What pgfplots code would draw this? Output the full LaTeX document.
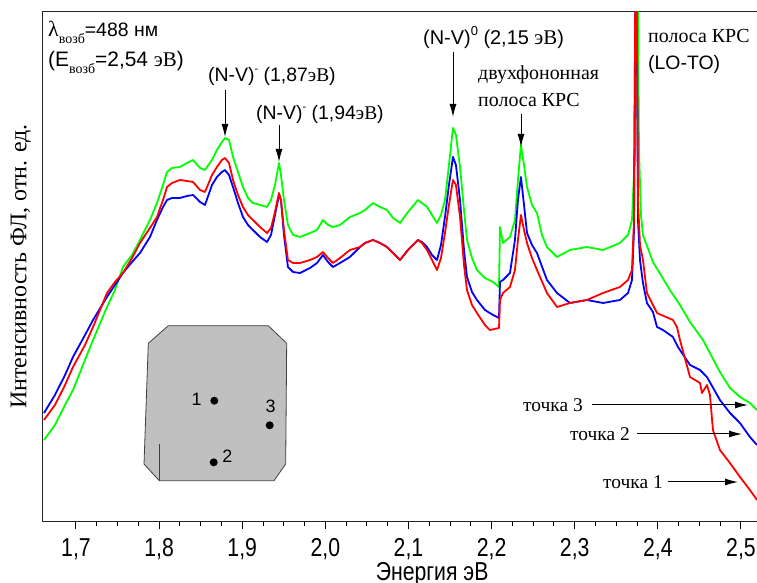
\documentclass[border=0pt]{standalone}
\usepackage{graphicx}
\usepackage{fontspec}
\setmainfont{Liberation Sans}
\newfontfamily\tms{Liberation Serif}
\usepackage{pgfplots}
\pgfplotsset{compat=1.18}
\usetikzlibrary{arrows.meta}
\newcommand\fs[1]{\fontsize{#1}{#1}\selectfont}
\newcommand\nar[1]{\scalebox{0.82}[1]{#1}}
\newcommand\sub[1]{\raisebox{-7bp}{\fs{14}\tms #1}}

\begin{document}
\begin{tikzpicture}
\useasboundingbox (-43bp,-62bp) rectangle (714bp,521bp);
\begin{axis}[
    scale only axis,
    width=714bp, height=509bp,
    xmin=1.6603, xmax=2.5193, ymin=0, ymax=509,
    xtick={1.7,1.8,1.9,2.0,2.1,2.2,2.3,2.4,2.5},
    xticklabels={\nar{1,7},\nar{1,8},\nar{1,9},\nar{2,0},\nar{2,1},\nar{2,2},\nar{2,3},\nar{2,4},\nar{2,5}},
    minor x tick num=3,
    ytick=\empty,
    xtick pos=left,
    tick align=outside,
    major tick length=8bp, minor tick length=5bp,
    every tick/.style={black, line width=1bp},
    axis line style={line width=1bp, black!85},
    xticklabel style={font=\fs{26}, anchor=base, yshift=-27bp, inner ysep=1bp},
    xlabel={\nar{Энергия эВ}},
    xlabel style={font=\fs{26}, at={(axis description cs:0.545,-0.116)}, anchor=base, inner ysep=1bp},
    ylabel={\tms Интенсивность ФЛ, отн. ед.},
    ylabel style={font=\fs{24}, at={(axis description cs:-0.031,0.5)}, anchor=center},
    every axis plot/.style={line width=1.8bp, line join=round},
]
% точка 3
\addplot[color={rgb,255:red,0;green,255;blue,0}] coordinates {
(1.6615,81) (1.6747,96) (1.6868,116) (1.6964,131) (1.7108,161) (1.7205,181)
(1.7373,214) (1.7469,231) (1.7565,254) (1.7674,266) (1.7770,281) (1.7890,301)
(1.7974,318) (1.8047,336) (1.8095,349) (1.8155,353) (1.8251,354) (1.8335,358)
(1.8408,361) (1.8492,353) (1.8552,351) (1.8636,361) (1.8696,371) (1.8756,379)
(1.8792,383) (1.8841,381) (1.8889,364) (1.8949,349) (1.9009,334) (1.9069,323)
(1.9129,318) (1.9214,316) (1.9298,314) (1.9346,321) (1.9394,336) (1.9442,358)
(1.9466,346) (1.9502,321) (1.9550,296) (1.9611,286) (1.9695,284) (1.9815,288)
(1.9899,291) (1.9971,301) (2.0032,296) (2.0092,294) (2.0176,296) (2.0296,304)
(2.0417,308) (2.0477,311) (2.0573,318) (2.0657,314) (2.0741,311) (2.0814,303)
(2.0898,298) (2.0994,309) (2.1114,321) (2.1162,318) (2.1223,314) (2.1283,306)
(2.1343,298) (2.1391,306) (2.1439,321) (2.1487,356) (2.1535,393) (2.1571,386)
(2.1620,354) (2.1668,311) (2.1704,281) (2.1764,263) (2.1824,251) (2.1920,243)
(2.2017,239) (2.2089,234) (2.2101,294) (2.2137,278) (2.2221,284) (2.2281,301)
(2.2317,341) (2.2353,376) (2.2390,356) (2.2426,334) (2.2486,316) (2.2546,308)
(2.2606,286) (2.2666,274) (2.2787,264) (2.2943,271) (2.3147,274) (2.3340,271)
(2.3544,278) (2.3641,286) (2.3689,301) (2.3725,371) (2.3749,650) (2.3773,371)
(2.3797,306) (2.3821,286) (2.3941,259) (2.4146,231) (2.4266,216) (2.4387,199)
(2.4543,181) (2.4747,149) (2.4868,133) (2.4988,124) (2.5108,118) (2.5193,111)
};
% точка 2
\addplot[color={rgb,255:red,0;green,0;blue,255}] coordinates {
(1.6615,108) (1.6747,126) (1.6868,146) (1.6964,164) (1.7108,186) (1.7205,201)
(1.7373,224) (1.7469,236) (1.7565,248) (1.7674,259) (1.7770,268) (1.7890,284)
(1.7974,301) (1.8047,314) (1.8095,321) (1.8155,323) (1.8251,323) (1.8335,325)
(1.8408,326) (1.8492,319) (1.8552,316) (1.8636,336) (1.8696,344) (1.8756,349)
(1.8792,351) (1.8841,346) (1.8889,334) (1.8949,318) (1.9009,304) (1.9069,296)
(1.9129,291) (1.9214,284) (1.9298,279) (1.9346,286) (1.9394,306) (1.9442,326)
(1.9466,321) (1.9502,286) (1.9550,254) (1.9611,249) (1.9695,248) (1.9815,253)
(1.9899,258) (1.9971,266) (2.0032,259) (2.0092,254) (2.0176,258) (2.0296,264)
(2.0417,274) (2.0477,278) (2.0573,281) (2.0657,278) (2.0741,274) (2.0814,268)
(2.0898,261) (2.0994,271) (2.1114,281) (2.1162,279) (2.1223,274) (2.1283,266)
(2.1343,261) (2.1391,276) (2.1439,304) (2.1487,336) (2.1535,364) (2.1571,356)
(2.1620,321) (2.1668,271) (2.1704,244) (2.1764,229) (2.1824,221) (2.1920,211)
(2.2017,206) (2.2089,203) (2.2101,239) (2.2137,241) (2.2221,248) (2.2281,281)
(2.2317,321) (2.2353,344) (2.2390,316) (2.2426,288) (2.2486,276) (2.2546,268)
(2.2666,241) (2.2787,228) (2.2943,218) (2.3147,221) (2.3340,218) (2.3544,221)
(2.3641,228) (2.3689,241) (2.3713,291) (2.3737,650) (2.3761,301) (2.3785,261)
(2.3821,238) (2.3869,218) (2.3941,209) (2.3990,194) (2.4062,191) (2.4182,184)
(2.4242,174) (2.4387,156) (2.4507,151) (2.4591,144) (2.4747,121) (2.4868,108)
(2.4988,98) (2.5108,84) (2.5193,76)
};
% точка 1
\addplot[color={rgb,255:red,255;green,0;blue,0}] coordinates {
(1.6615,101) (1.6747,116) (1.6868,136) (1.6964,154) (1.7108,176) (1.7205,194)
(1.7373,228) (1.7469,239) (1.7565,248) (1.7674,263) (1.7770,278) (1.7890,293)
(1.7974,304) (1.8047,321) (1.8095,334) (1.8155,338) (1.8251,341) (1.8335,340)
(1.8408,339) (1.8492,331) (1.8552,329) (1.8636,346) (1.8696,354) (1.8756,361)
(1.8792,363) (1.8841,358) (1.8889,341) (1.8949,326) (1.9009,314) (1.9069,306)
(1.9129,301) (1.9214,294) (1.9298,288) (1.9346,293) (1.9394,309) (1.9442,328)
(1.9466,321) (1.9502,291) (1.9550,261) (1.9611,258) (1.9695,258) (1.9815,261)
(1.9899,264) (1.9971,269) (2.0032,263) (2.0092,258) (2.0176,263) (2.0296,271)
(2.0417,274) (2.0477,278) (2.0573,281) (2.0657,278) (2.0741,274) (2.0814,268)
(2.0898,261) (2.0994,271) (2.1114,281) (2.1162,278) (2.1223,271) (2.1283,261)
(2.1343,251) (2.1391,263) (2.1439,288) (2.1487,316) (2.1535,341) (2.1571,336)
(2.1620,304) (2.1668,256) (2.1704,231) (2.1764,216) (2.1824,208) (2.1920,196)
(2.1980,191) (2.2089,193) (2.2101,221) (2.2137,228) (2.2221,234) (2.2281,251)
(2.2317,281) (2.2353,306) (2.2390,291) (2.2426,278) (2.2486,263) (2.2546,251)
(2.2666,228) (2.2787,214) (2.2943,218) (2.3147,221) (2.3340,228) (2.3544,234)
(2.3641,241) (2.3689,251) (2.3713,301) (2.3737,650) (2.3761,321) (2.3785,276)
(2.3821,261) (2.3869,228) (2.3990,208) (2.4182,201) (2.4230,194) (2.4266,181)
(2.4387,144) (2.4507,138) (2.4531,128) (2.4591,136) (2.4627,126) (2.4663,91)
(2.4747,71) (2.4868,58) (2.4988,44) (2.5108,31) (2.5193,21)
};
\end{axis}
\begin{scope}[x=1bp, y=1bp, font=\fs{19.5}]
% sample sketch
\draw[fill={rgb,255:red,192;green,192;blue,192}, draw=black!75, line width=0.8bp]
  (125.3,195.3) -- (225.3,195.3) -- (243.7,177.7) -- (242.7,57) -- (231,40.3)
  -- (116.3,40.3) -- (101,57) -- (105.3,177.7) -- cycle;
\draw[black!75, line width=0.8bp] (116.3,77) -- (116.3,40.3);
\fill (171.3,120.3) circle (4bp);
\fill (226.7,95.7) circle (4bp);
\fill (170.7,58.7) circle (4bp);
\node[font=\fs{18}] at (153.7,121.7) {1};
\node[font=\fs{18}] at (227.7,115) {3};
\node[font=\fs{18}] at (184.3,64.3) {2};
% labels
\node[anchor=base west, inner sep=0] at (5,484) {{\fs{22}\tms λ}\sub{возб}=488 нм};
\node[anchor=base west, inner sep=0, font=\fs{21}] at (5,454) {(E\sub{возб}=2,54 {\tms эВ})};
\node[anchor=base west, inner sep=0] at (165,439) {(N-V)\raisebox{9bp}{\fs{11}-} (1,87{\tms эВ})};
\node[anchor=base west, inner sep=0] at (213,401) {(N-V)\raisebox{9bp}{\fs{11}-} (1,94{\tms эВ})};
\node[anchor=base west, inner sep=0, font=\fs{20}] at (380,476) {(N-V)\raisebox{9bp}{\fs{13}0} (2,15 {\fs{21}\tms эВ})};
\node[anchor=base west, inner sep=0, font=\fs{20}\tms] at (435,441) {двухфононная};
\node[anchor=base west, inner sep=0, font=\fs{20}\tms] at (435,414) {полоса КРС};
\node[anchor=base west, inner sep=0, font=\fs{20}\tms] at (605,478) {полоса КРС};
\node[anchor=base west, inner sep=0] at (605,451) {(LO-TO)};
\node[anchor=east, inner sep=0, font=\fs{19.5}\tms] at (540,116) {точка 3};
\node[anchor=east, inner sep=0, font=\fs{19.5}\tms] at (587,87) {точка 2};
\node[anchor=east, inner sep=0, font=\fs{19.5}\tms] at (620,39) {точка 1};
% arrows
\begin{scope}[line width=1bp, -{Latex[length=13bp, width=7bp]}]
\draw (182,431) -- (182,384);
\draw (236,396) -- (236,359);
\draw (410,469) -- (410,404);
\draw (478,407) -- (478,374);
\draw (549,116) -- (705,116);
\draw (594,87) -- (699,87);
\draw (625,39) -- (695,39);
\end{scope}
\end{scope}
\end{tikzpicture}
\end{document}
